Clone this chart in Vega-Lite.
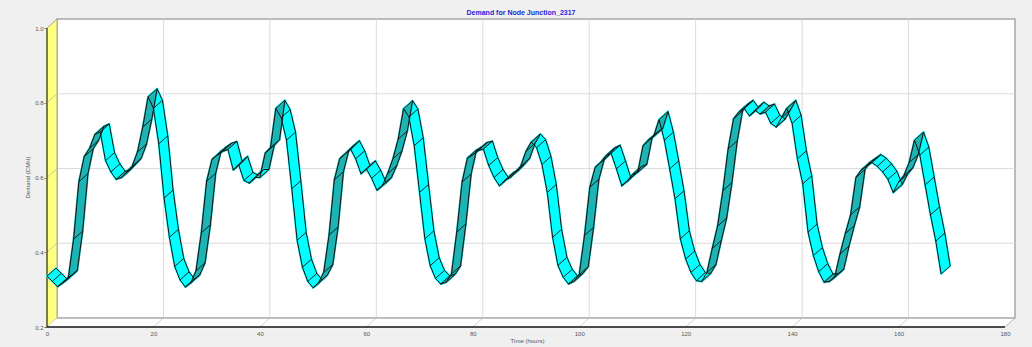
{
  "$schema": "https://vega.github.io/schema/vega-lite/v6.json",
  "width": 958,
  "height": 299,
  "autosize": "none",
  "padding": {"left": 57, "top": 19, "right": 17, "bottom": 29},
  "background": "#f0f0f0",
  "title": {"text": "Demand for Node Junction_2317", "color": "#2424d8", "fontSize": 7, "fontWeight": "bold", "font": "Liberation Sans", "anchor": "middle", "dx": -15, "offset": 3},
  "config": {
    "view": {"fill": "white", "stroke": "#a8a8a8", "strokeWidth": 1.5},
    "axis": {"labelFont": "Liberation Sans", "labelFontSize": 6, "labelColor": "#555555", "titleFont": "Liberation Sans", "titleFontSize": 6, "titleColor": "#555555", "titleFontWeight": "normal", "grid": false, "domain": false}
  },
  "data": {"values": [
    {"h":0,"v":0.336},{"h":1,"v":0.322},{"h":2,"v":0.308},{"h":3,"v":0.318},{"h":4,"v":0.330},{"h":5,"v":0.435},{"h":6,"v":0.589},{"h":7,"v":0.656},{"h":8,"v":0.678},{"h":9,"v":0.715},
    {"h":10,"v":0.722},{"h":11,"v":0.645},{"h":12,"v":0.615},{"h":13,"v":0.595},{"h":14,"v":0.600},{"h":15,"v":0.615},{"h":16,"v":0.630},{"h":17,"v":0.668},{"h":18,"v":0.735},{"h":19,"v":0.816},
    {"h":20,"v":0.785},{"h":21,"v":0.690},{"h":22,"v":0.545},{"h":23,"v":0.440},{"h":24,"v":0.362},{"h":25,"v":0.326},{"h":26,"v":0.307},{"h":27,"v":0.318},{"h":28,"v":0.350},{"h":29,"v":0.452},
    {"h":30,"v":0.590},{"h":31,"v":0.648},{"h":32,"v":0.660},{"h":33,"v":0.670},{"h":34,"v":0.675},{"h":35,"v":0.620},{"h":36,"v":0.635},{"h":37,"v":0.592},{"h":38,"v":0.585},{"h":39,"v":0.600},
    {"h":40,"v":0.600},{"h":41,"v":0.665},{"h":42,"v":0.680},{"h":43,"v":0.785},{"h":44,"v":0.760},{"h":45,"v":0.700},{"h":46,"v":0.570},{"h":47,"v":0.432},{"h":48,"v":0.360},{"h":49,"v":0.322},
    {"h":50,"v":0.305},{"h":51,"v":0.318},{"h":52,"v":0.346},{"h":53,"v":0.446},{"h":54,"v":0.594},{"h":55,"v":0.650},{"h":56,"v":0.663},{"h":57,"v":0.677},{"h":58,"v":0.650},{"h":59,"v":0.610},
    {"h":60,"v":0.623},{"h":61,"v":0.598},{"h":62,"v":0.566},{"h":63,"v":0.578},{"h":64,"v":0.610},{"h":65,"v":0.650},{"h":66,"v":0.703},{"h":67,"v":0.784},{"h":68,"v":0.762},{"h":69,"v":0.685},
    {"h":70,"v":0.560},{"h":71,"v":0.436},{"h":72,"v":0.364},{"h":73,"v":0.330},{"h":74,"v":0.315},{"h":75,"v":0.320},{"h":76,"v":0.342},{"h":77,"v":0.454},{"h":78,"v":0.588},{"h":79,"v":0.652},
    {"h":80,"v":0.660},{"h":81,"v":0.672},{"h":82,"v":0.676},{"h":83,"v":0.632},{"h":84,"v":0.600},{"h":85,"v":0.578},{"h":86,"v":0.592},{"h":87,"v":0.600},{"h":88,"v":0.614},{"h":89,"v":0.630},
    {"h":90,"v":0.670},{"h":91,"v":0.695},{"h":92,"v":0.680},{"h":93,"v":0.635},{"h":94,"v":0.560},{"h":95,"v":0.440},{"h":96,"v":0.365},{"h":97,"v":0.333},{"h":98,"v":0.315},{"h":99,"v":0.322},
    {"h":100,"v":0.340},{"h":101,"v":0.445},{"h":102,"v":0.574},{"h":103,"v":0.627},{"h":104,"v":0.640},{"h":105,"v":0.658},{"h":106,"v":0.665},{"h":107,"v":0.623},{"h":108,"v":0.578},{"h":109,"v":0.590},
    {"h":110,"v":0.608},{"h":111,"v":0.614},{"h":112,"v":0.685},{"h":113,"v":0.700},{"h":114,"v":0.710},{"h":115,"v":0.755},{"h":116,"v":0.700},{"h":117,"v":0.623},{"h":118,"v":0.543},{"h":119,"v":0.436},
    {"h":120,"v":0.382},{"h":121,"v":0.346},{"h":122,"v":0.324},{"h":123,"v":0.322},{"h":124,"v":0.346},{"h":125,"v":0.410},{"h":126,"v":0.470},{"h":127,"v":0.565},{"h":128,"v":0.677},{"h":129,"v":0.757},
    {"h":130,"v":0.775},{"h":131,"v":0.785},{"h":132,"v":0.765},{"h":133,"v":0.780},{"h":134,"v":0.770},{"h":135,"v":0.775},{"h":136,"v":0.745},{"h":137,"v":0.735},{"h":138,"v":0.760},{"h":139,"v":0.785},
    {"h":140,"v":0.745},{"h":141,"v":0.650},{"h":142,"v":0.583},{"h":143,"v":0.454},{"h":144,"v":0.391},{"h":145,"v":0.348},{"h":146,"v":0.320},{"h":147,"v":0.322},{"h":148,"v":0.333},{"h":149,"v":0.395},
    {"h":150,"v":0.450},{"h":151,"v":0.500},{"h":152,"v":0.600},{"h":153,"v":0.620},{"h":154,"v":0.630},{"h":155,"v":0.640},{"h":156,"v":0.630},{"h":157,"v":0.615},{"h":158,"v":0.595},{"h":159,"v":0.560},
    {"h":160,"v":0.588},{"h":161,"v":0.605},{"h":162,"v":0.640},{"h":163,"v":0.700},{"h":164,"v":0.660},{"h":165,"v":0.580},{"h":166,"v":0.500},{"h":167,"v":0.430},{"h":168,"v":0.342}
  ]},
  "layer": [
    {
      "data": {"values": [{}]},
      "encoding": {"x": {"datum": 0, "type": "quantitative"}, "y": {"datum": 0.2, "type": "quantitative"}, "y2": {"datum": 1.0}},
      "layer": [
        {"mark": {"type": "rule", "color": "#ffff80", "strokeWidth": 2.4, "xOffset": -10, "yOffset": 9, "y2Offset": 9}},
        {"mark": {"type": "rule", "color": "#ffff80", "strokeWidth": 2.4, "xOffset": -8, "yOffset": 7.2, "y2Offset": 7.2}},
        {"mark": {"type": "rule", "color": "#ffff80", "strokeWidth": 2.4, "xOffset": -6, "yOffset": 5.4, "y2Offset": 5.4}},
        {"mark": {"type": "rule", "color": "#ffff80", "strokeWidth": 2.4, "xOffset": -4, "yOffset": 3.6, "y2Offset": 3.6}},
        {"mark": {"type": "rule", "color": "#ffff80", "strokeWidth": 2.4, "xOffset": -2, "yOffset": 1.8, "y2Offset": 1.8}},
        {"mark": {"type": "rule", "color": "#ffff80", "strokeWidth": 1.5, "xOffset": -0.7, "yOffset": 0.6, "y2Offset": 0.6}}
      ]
    },
    {
      "data": {"values": [{}]},
      "encoding": {"x": {"datum": 0, "type": "quantitative"}, "x2": {"datum": 180}, "y": {"datum": 0.2, "type": "quantitative"}},
      "layer": [
        {"mark": {"type": "rule", "color": "white", "strokeWidth": 2.4, "xOffset": -10, "x2Offset": -10, "yOffset": 9}},
        {"mark": {"type": "rule", "color": "white", "strokeWidth": 2.4, "xOffset": -8, "x2Offset": -8, "yOffset": 7.2}},
        {"mark": {"type": "rule", "color": "white", "strokeWidth": 2.4, "xOffset": -6, "x2Offset": -6, "yOffset": 5.4}},
        {"mark": {"type": "rule", "color": "white", "strokeWidth": 2.4, "xOffset": -4, "x2Offset": -4, "yOffset": 3.6}},
        {"mark": {"type": "rule", "color": "white", "strokeWidth": 2.4, "xOffset": -2, "x2Offset": -2, "yOffset": 1.8}}
      ]
    },
    {
      "transform": [{"filter": "datum.h % 20 == 0 && datum.h > 0"}],
      "mark": {"type": "rule", "color": "#dcdcdc", "strokeWidth": 1},
      "encoding": {"x": {"field": "h", "type": "quantitative"}, "y": {"datum": 0.2, "type": "quantitative"}, "y2": {"datum": 1.0}}
    },
    {
      "transform": [{"filter": "datum.h % 20 == 0"}],
      "mark": {"type": "rule", "color": "#cfcfcf", "strokeWidth": 1, "x2Offset": -10, "y2Offset": 9},
      "encoding": {"x": {"field": "h", "type": "quantitative"}, "x2": {"field": "h"}, "y": {"datum": 0.2, "type": "quantitative"}, "y2": {"datum": 0.2}}
    },
    {
      "data": {"values": [{}]},
      "layer": [
        {"mark": {"type": "rule", "color": "#dcdcdc", "strokeWidth": 1}, "encoding": {"x": {"datum": 0, "type": "quantitative"}, "x2": {"datum": 180}, "y": {"datum": 0.4, "type": "quantitative"}}},
        {"mark": {"type": "rule", "color": "#dcdcdc", "strokeWidth": 1}, "encoding": {"x": {"datum": 0, "type": "quantitative"}, "x2": {"datum": 180}, "y": {"datum": 0.6, "type": "quantitative"}}},
        {"mark": {"type": "rule", "color": "#dcdcdc", "strokeWidth": 1}, "encoding": {"x": {"datum": 0, "type": "quantitative"}, "x2": {"datum": 180}, "y": {"datum": 0.8, "type": "quantitative"}}},
        {"mark": {"type": "rule", "color": "#c8c8a0", "strokeWidth": 1, "x2Offset": -10, "y2Offset": 9}, "encoding": {"x": {"datum": 0, "type": "quantitative"}, "x2": {"datum": 0}, "y": {"datum": 0.4, "type": "quantitative"}, "y2": {"datum": 0.4}}},
        {"mark": {"type": "rule", "color": "#c8c8a0", "strokeWidth": 1, "x2Offset": -10, "y2Offset": 9}, "encoding": {"x": {"datum": 0, "type": "quantitative"}, "x2": {"datum": 0}, "y": {"datum": 0.6, "type": "quantitative"}, "y2": {"datum": 0.6}}},
        {"mark": {"type": "rule", "color": "#c8c8a0", "strokeWidth": 1, "x2Offset": -10, "y2Offset": 9}, "encoding": {"x": {"datum": 0, "type": "quantitative"}, "x2": {"datum": 0}, "y": {"datum": 0.8, "type": "quantitative"}, "y2": {"datum": 0.8}}},
        {"mark": {"type": "rule", "color": "#a0a0a0", "strokeWidth": 1, "x2Offset": -10, "y2Offset": 9}, "encoding": {"x": {"datum": 0, "type": "quantitative"}, "x2": {"datum": 0}, "y": {"datum": 1.0, "type": "quantitative"}, "y2": {"datum": 1.0}}},
        {"mark": {"type": "rule", "color": "#b4b4b4", "strokeWidth": 1, "x2Offset": -10, "y2Offset": 9}, "encoding": {"x": {"datum": 180, "type": "quantitative"}, "x2": {"datum": 180}, "y": {"datum": 0.2, "type": "quantitative"}, "y2": {"datum": 0.2}}},
        {"mark": {"type": "rule", "color": "#b8b8b8", "strokeWidth": 1.5}, "encoding": {"x": {"datum": 0, "type": "quantitative"}, "x2": {"datum": 180}, "y": {"datum": 0.2, "type": "quantitative"}}},
        {"mark": {"type": "rule", "color": "#a8a890", "strokeWidth": 1}, "encoding": {"x": {"datum": 0, "type": "quantitative"}, "y": {"datum": 0.2, "type": "quantitative"}, "y2": {"datum": 1.0}}},
        {"mark": {"type": "rule", "color": "#5a5a3c", "strokeWidth": 1.6, "xOffset": -10, "yOffset": 9, "y2Offset": 9}, "encoding": {"x": {"datum": 0, "type": "quantitative"}, "y": {"datum": 0.2, "type": "quantitative"}, "y2": {"datum": 1.0}}},
        {"mark": {"type": "rule", "color": "#111111", "strokeWidth": 1.4, "xOffset": -10, "x2Offset": -10, "yOffset": 9}, "encoding": {"x": {"datum": 0, "type": "quantitative"}, "x2": {"datum": 180}, "y": {"datum": 0.2, "type": "quantitative"}}}
      ]
    },
    {
      "transform": [
        {"window": [{"op": "lead", "field": "h", "as": "h2"}, {"op": "lead", "field": "v", "as": "v2"}], "sort": [{"field": "h", "order": "ascending"}]},
        {"filter": "datum.h2 != null"}
      ],
      "encoding": {
        "x": {"field": "h", "type": "quantitative"},
        "y": {"field": "v", "type": "quantitative"},
        "x2": {"field": "h2"},
        "y2": {"field": "v2"},
        "color": {"condition": {"test": "datum.v2 > datum.v", "value": "#1eb4b4"}, "value": "#00ffff"}
      },
      "layer": [
        {"mark": {"type": "rule", "strokeWidth": 2, "strokeCap": "round", "xOffset": -10, "x2Offset": -10, "yOffset": 9, "y2Offset": 9}},
        {"mark": {"type": "rule", "strokeWidth": 2, "strokeCap": "round", "xOffset": -8.875, "x2Offset": -8.875, "yOffset": 8, "y2Offset": 8}},
        {"mark": {"type": "rule", "strokeWidth": 2, "strokeCap": "round", "xOffset": -7.75, "x2Offset": -7.75, "yOffset": 7, "y2Offset": 7}},
        {"mark": {"type": "rule", "strokeWidth": 2, "strokeCap": "round", "xOffset": -6.625, "x2Offset": -6.625, "yOffset": 6, "y2Offset": 6}},
        {"mark": {"type": "rule", "strokeWidth": 2, "strokeCap": "round", "xOffset": -5.5, "x2Offset": -5.5, "yOffset": 5, "y2Offset": 5}},
        {"mark": {"type": "rule", "strokeWidth": 2, "strokeCap": "round", "xOffset": -4.375, "x2Offset": -4.375, "yOffset": 4, "y2Offset": 4}},
        {"mark": {"type": "rule", "strokeWidth": 2, "strokeCap": "round", "xOffset": -3.25, "x2Offset": -3.25, "yOffset": 3, "y2Offset": 3}},
        {"mark": {"type": "rule", "strokeWidth": 2, "strokeCap": "round", "xOffset": -2.125, "x2Offset": -2.125, "yOffset": 2, "y2Offset": 2}},
        {"mark": {"type": "rule", "strokeWidth": 2, "strokeCap": "round", "xOffset": -1, "x2Offset": -1, "yOffset": 1, "y2Offset": 1}}
      ]
    },
    {
      "mark": {"type": "line", "color": "#111111", "strokeWidth": 1, "xOffset": -10, "yOffset": 9},
      "encoding": {
        "x": {"field": "h", "type": "quantitative", "scale": {"domain": [0, 180], "nice": false, "zero": false},
              "axis": {"values": [0, 20, 40, 60, 80, 100, 120, 140, 160, 180], "offset": 9, "tickOffset": -10, "ticks": false, "labelPadding": 3, "labelFlush": false, "labelOverlap": false, "title": "Time (hours)", "titlePadding": 1, "titleX": 470}},
        "y": {"field": "v", "type": "quantitative", "scale": {"domain": [0.2, 1.0], "nice": false, "zero": false},
              "axis": {"values": [0.2, 0.4, 0.6, 0.8, 1.0], "format": ".1f", "offset": 10, "tickOffset": 9, "ticks": true, "tickSize": 3, "tickColor": "#666666", "labelPadding": 1, "labelFlush": false, "labelOverlap": false, "title": "Demand (CMH)", "titlePadding": 4, "titleY": 158}}
      }
    },
    {
      "mark": {"type": "line", "color": "#111111", "strokeWidth": 1, "xOffset": -1, "yOffset": 1},
      "encoding": {"x": {"field": "h", "type": "quantitative"}, "y": {"field": "v", "type": "quantitative"}}
    },
    {
      "mark": {"type": "rule", "color": "#111111", "strokeWidth": 0.9, "xOffset": -10, "yOffset": 9, "x2Offset": -1, "y2Offset": 1},
      "encoding": {"x": {"field": "h", "type": "quantitative"}, "x2": {"field": "h"}, "y": {"field": "v", "type": "quantitative"}, "y2": {"field": "v"}}
    }
  ]
}
